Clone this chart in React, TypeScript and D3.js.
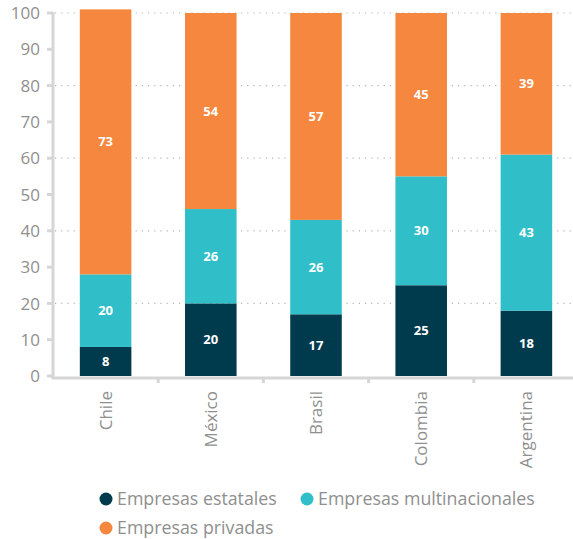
import React from "react";
import * as d3 from "d3";

const categories = ["Chile", "México", "Brasil", "Colombia", "Argentina"];
const estatales = [8, 20, 17, 25, 18];
const multinacionales = [20, 26, 26, 30, 43];
const privadas = [73, 54, 57, 45, 39];
const seriesNames = ["Empresas estatales", "Empresas multinacionales", "Empresas privadas"];
const seriesColors = ["#003b4d", "#30bfc8", "#f5873f"];
const yTicks = [0, 10, 20, 30, 40, 50, 60, 70, 80, 90, 100];
const gridTicks = [20, 40, 60, 80, 100];

const W = 573;
const H = 539;
const FONT = "'Open Sans', Lato, sans-serif";

export default function App() {
  const left = 53;
  const right = 579;
  const y = d3.scaleLinear().domain([0, 100]).range([376, 13]);
  const x = d3.scaleBand<string>().domain(categories).range([left, right]).paddingInner(0).paddingOuter(0);
  const bw = x.bandwidth() * 0.49;

  const rows = categories.map((c, i) => ({
    cat: c,
    estatales: estatales[i],
    multinacionales: multinacionales[i],
    privadas: privadas[i],
  }));
  const keys = ["estatales", "multinacionales", "privadas"];
  const stack = d3.stack<any>().keys(keys)(rows);

  const legendItems = [
    { cx: 106, cy: 499, name: seriesNames[0], color: seriesColors[0] },
    { cx: 307, cy: 499, name: seriesNames[1], color: seriesColors[1] },
    { cx: 106, cy: 528, name: seriesNames[2], color: seriesColors[2] },
  ];

  return (
    <svg width={W} height={H} style={{ position: "absolute", left: 0, top: 0, background: "#fff" }} fontFamily={FONT}>
      {gridTicks.map((t) => (
        <line key={t} x1={left + 2} x2={right} y1={y(t)} y2={y(t)} stroke="#b5b5b5" strokeWidth={1.2} strokeDasharray="1.2 5" />
      ))}
      {stack.map((s, si) =>
        s.map((d, i) => {
          const cx = (x(categories[i]) as number) + x.bandwidth() / 2;
          const y0 = y(d[0]);
          const y1 = y(d[1]);
          return (
            <g key={`${si}-${i}`}>
              <rect x={cx - bw / 2} y={y1} width={bw} height={y0 - y1} fill={seriesColors[si]} />
              <text x={cx} y={(y0 + y1) / 2} dy="0.35em" textAnchor="middle" fill="#fff" fontWeight={700} fontSize={13}>
                {d[1] - d[0]}
              </text>
            </g>
          );
        })
      )}
      {/* y axis */}
      <line x1={left} x2={left} y1={y(100) - 1} y2={y(0) + 2} stroke="#d6d6d6" strokeWidth={3} />
      {yTicks.map((t) => (
        <g key={t}>
          <line x1={left - 6} x2={left} y1={y(t)} y2={y(t)} stroke="#d6d6d6" strokeWidth={3} />
          <text x={40} y={y(t)} dy="0.36em" textAnchor="end" fill="#8f8f8f" fontSize={17}>
            {t}
          </text>
        </g>
      ))}
      {/* x axis */}
      <line x1={left - 1.5} x2={right} y1={y(0) + 2} y2={y(0) + 2} stroke="#d6d6d6" strokeWidth={3} />
      {categories.slice(1).map((c) => (
        <line key={c} x1={x(c) as number} x2={x(c) as number} y1={y(0) + 2} y2={y(0) + 7} stroke="#d6d6d6" strokeWidth={3} />
      ))}
      {categories.map((c) => {
        const cx = (x(c) as number) + x.bandwidth() / 2;
        return (
          <text key={c} transform={`translate(${cx},391) rotate(-90)`} textAnchor="end" dy="0.35em" fill="#8f8f8f" fontSize={17}>
            {c}
          </text>
        );
      })}
      {legendItems.map((l) => (
        <g key={l.name}>
          <circle cx={l.cx} cy={l.cy} r={6.5} fill={l.color} />
          <text x={l.cx + 11} y={l.cy} dy="0.35em" fill="#8f8f8f" fontSize={17.8}>
            {l.name}
          </text>
        </g>
      ))}
    </svg>
  );
}
